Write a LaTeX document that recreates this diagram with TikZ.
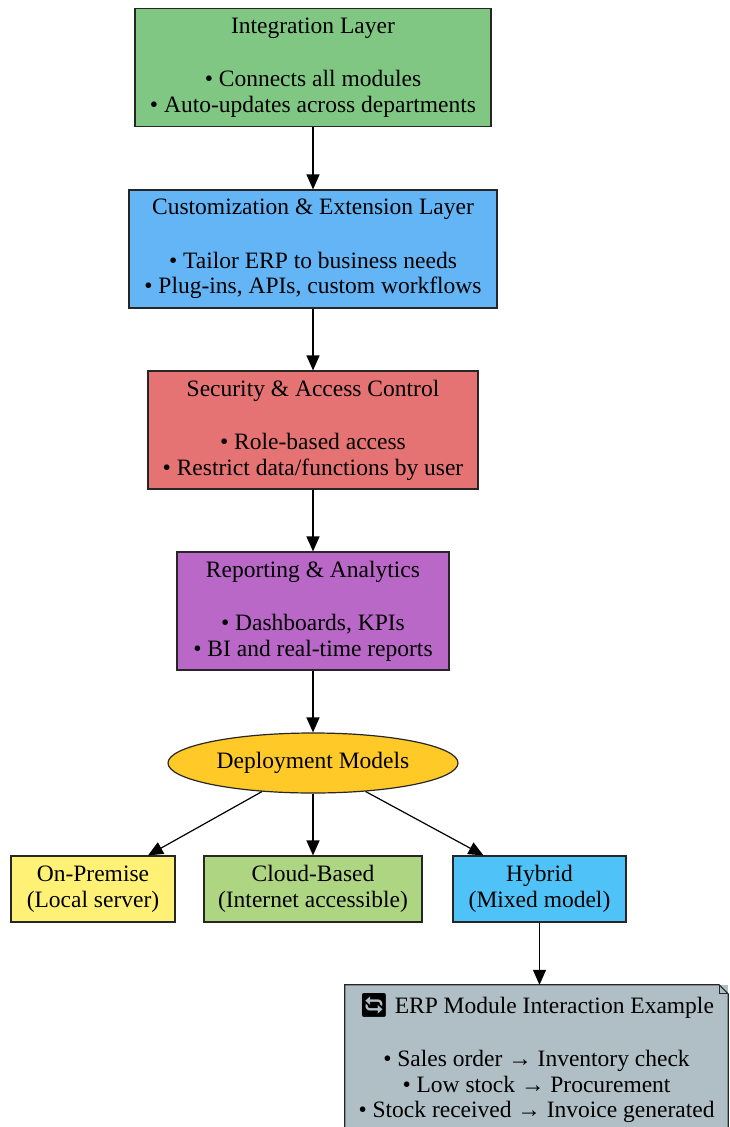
\documentclass[tikz,border=0pt]{standalone}
\usepackage{fontspec}
\setmainfont{Liberation Serif}
\newfontfamily\emojifont{Noto Emoji}
\usetikzlibrary{shapes,arrows.meta}

\definecolor{integfill}{HTML}{81C784}
\definecolor{customfill}{HTML}{64B5F6}
\definecolor{securefill}{HTML}{E57373}
\definecolor{reportfill}{HTML}{BA68C8}
\definecolor{deployfill}{HTML}{FFCA28}
\definecolor{premfill}{HTML}{FFF176}
\definecolor{cloudfill}{HTML}{AED581}
\definecolor{hybridfill}{HTML}{4FC3F7}
\definecolor{notefill}{HTML}{B0BEC5}

\begin{document}
\begin{tikzpicture}[x=1pt, y=1pt,
  every node/.style = {align=center, inner sep=0pt,
    font=\fontsize{23.5}{25.5}\selectfont},
  layer/.style = {shape=rectangle, draw=black!85, line width=1.2pt,
    minimum height=118pt},
  model/.style = {shape=rectangle, draw=black!85, line width=1.2pt,
    minimum height=66pt},
  link/.style = {-{Triangle[length=15pt,width=13pt]}, line width=1.2pt}]
  \useasboundingbox (0,0) rectangle (730,-1127);

  \node[layer, fill=integfill, minimum width=356pt] (integ) at (313,-67.5)
    {Integration Layer\\[28pt] • Connects all modules\\ • Auto-updates across departments};
  \node[layer, fill=customfill, minimum width=368pt] (custom) at (313,-249)
    {Customization \& Extension Layer\\[28pt] • Tailor ERP to business needs\\ • Plug-ins, APIs, custom workflows};
  \node[layer, fill=securefill, minimum width=330pt] (secure) at (313,-430)
    {Security \& Access Control\\[28pt] • Role-based access\\ • Restrict data/functions by user};
  \node[layer, fill=reportfill, minimum width=272pt] (report) at (313,-611)
    {Reporting \& Analytics\\[28pt] • Dashboards, KPIs\\ • BI and real-time reports};
  \node[shape=ellipse, draw=black!85, line width=1.2pt, fill=deployfill,
    minimum width=290pt, minimum height=60pt] (deploy) at (313,-763)
    {Deployment Models};

  \node[model, fill=premfill, minimum width=164pt] (onprem) at (93,-889)
    {On-Premise\\ (Local server)};
  \node[model, fill=cloudfill, minimum width=218pt] (cloud) at (313,-889)
    {Cloud-Based\\ (Internet accessible)};
  \node[model, fill=hybridfill, minimum width=173pt] (hybrid) at (539.5,-889)
    {Hybrid\\ (Mixed model)};

  \node[fill=notefill, minimum width=383pt, minimum height=146pt] (example) at (536.5,-1058)
    {{\emojifont 🔄} ERP Module Interaction Example\\[28pt]
     • Sales order → Inventory check\\ • Low stock → Procurement\\
     • Stock received → Invoice generated};
  \draw[draw=black!85, line width=1.2pt]
    (example.south west) -- (example.north west)
    -- ([xshift=-9pt]example.north east) -- ([yshift=-9pt]example.north east)
    -- (example.south east);
  \draw[draw=black!85, line width=1pt]
    ([xshift=-9pt]example.north east) -- ([xshift=-9pt,yshift=-9pt]example.north east)
    -- ([yshift=-9pt]example.north east);

  \draw[link] (integ) -- (custom);
  \draw[link] (custom) -- (secure);
  \draw[link] (secure) -- (report);
  \draw[link] (report) -- (deploy);
  \draw[link] (deploy) -- ([xshift=55pt]onprem.north);
  \draw[link] (deploy) -- (cloud);
  \draw[link] (deploy) -- ([xshift=-56pt]hybrid.north);
  \draw[link] (hybrid) -- (hybrid.south |- example.north);
\end{tikzpicture}
\end{document}
